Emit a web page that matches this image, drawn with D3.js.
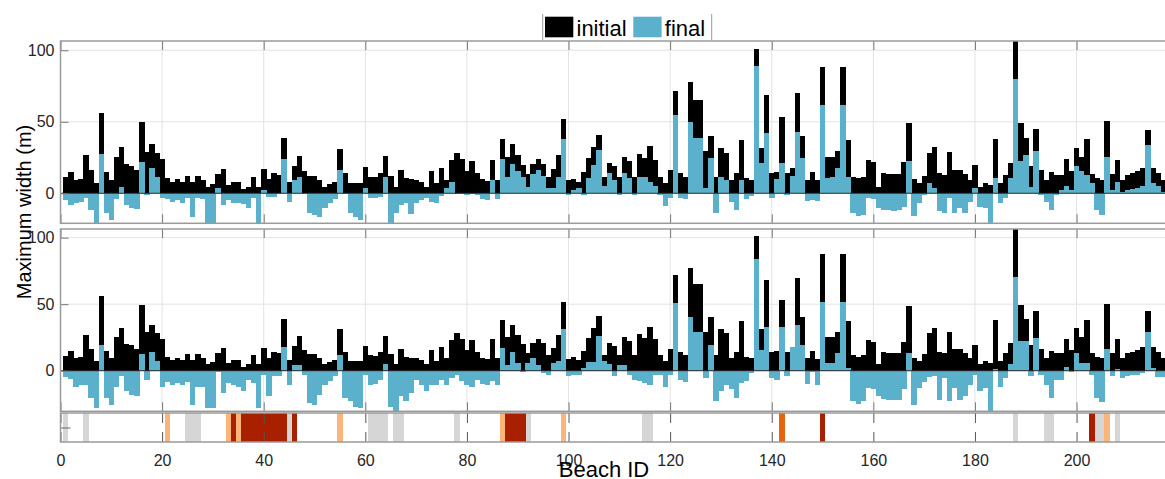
<!DOCTYPE html>
<html>
 <head>
    <title>Maximum width per beach</title>
    <script src="https://d3js.org/d3.v7.min.js"></script>
    <style>
      body { margin: 0; background: #fff; }
      svg { font-family: "Liberation Sans", Arial, sans-serif; }
    </style>
 </head>
 <body>
    <div id="chart"></div>
    <script>
      // beach IDs 1..217 (one bar per beach)
      var beachIds = d3.range(1, 218);

      // initial maximum width (m), same in both panels
      var initialWidth = [
        11.3,14.6,9.4,10,26.5,16,7,56,15,9.4,
        25.4,32.4,20.4,19,16.4,49.5,28.9,34.5,28,24,
        10.5,8.2,9.9,8.2,12.2,8.2,12.2,9.4,4.7,6.6,
        13.6,16.9,5.9,8.2,8.2,2.8,4.7,11.7,4.7,17,
        9.9,14,13,38.7,8.2,18.8,25.8,15.3,12.2,12.2,
        9.4,4.7,6.6,8.2,31.2,14,7.5,7.5,7,18.3,
        11.7,11.3,14,26.3,12.2,4.7,16,10.5,9.9,9.4,
        8.2,4.7,15.3,7,17.6,9.4,23,28,24,15.3,
        22.8,14,9.9,8.7,23.5,9.4,38.3,25.4,34.7,27,
        20,13.4,20.7,24.2,20.7,11.7,17,26.8,52,9,
        10,8,15,24.6,32.4,41,11.7,21,18.8,11.7,
        25.4,22.3,11.7,27.5,24.6,32.9,23.5,11.7,7,16,
        71.6,14,11.7,77.5,65,65,29.3,40,11.7,31.7,
        28,9.4,14,37.6,10.5,9.4,101,31.7,68.5,14,
        15,53.5,14,17.6,70,40,9.4,14.6,9,88,
        25.4,25.4,29.3,88,37.6,11.7,10.5,11.7,23,21.6,
        4.7,14,13.4,13.4,13.4,21.8,49,9.9,7,12.2,
        28,32.4,14,13,29,16,16.4,13.4,9.4,19.5,
        4.7,7,5.9,38,7.5,13,21,106.5,49.3,38.7,
        19.2,45,16.4,9.4,14.6,13,13,24,15.3,32,
        25.4,38,13.6,10.5,9.4,50.5,13.6,23.5,9.4,13,
        14,15.3,17.6,44.6,17.6,14,9.4
      ];

      // final width (m), upper panel
      var finalTop = [
        -4.7,-8,-7,-6,-3.5,-11.7,-20.6,27.7,-14,-18.8,
        -4,4.7,-8,-10.5,-11.3,21.6,-1,18,11.7,-3.5,
        -4,-6,-5,-6.6,-3,-16.4,-3.5,-4,-20.6,-20.6,
        3.5,-8,-4.7,-6.6,-6.6,-7.5,-10.5,-3.5,-20.6,2.3,
        -2.3,-2.3,-0.5,24,-6,9.4,11.7,-0.5,-14,-15.3,
        -16.4,-10.5,-7,-4,16.4,-0.5,-14,-16.4,-18.8,3.5,
        -3.5,-3.5,-2.3,11.3,-20.6,-14,-8,-7,-14.5,-7,
        -4.7,-3.5,-6,-6.6,-2,3.5,8,-0.5,-0.5,-1,
        -0.5,-1,-4,-5,9.4,-4,24,11.3,20.4,15.3,
        11.7,4.7,13.6,16.4,12.2,3.5,3.5,11.3,38,-1,
        2,3.5,-1,10.5,20,30.5,5,14,9.4,-1,
        14,10.5,-1,11.7,11.7,8,5,-1,-8.7,-3,
        55,-3,-4,50,38.7,38.7,3.5,25,-14,11.7,
        9,-6,-12,9.4,-4,-2,89,21,42,-3,
        10,21,-1,12,43,24.6,-5.4,-5,-5.4,61.5,
        10.5,11.3,17.6,61.5,11.3,-14,-16,-15,-3.5,-4,
        -10.5,-11.7,-12,-12.4,-12,-9.4,22.3,-16,-7,-1,
        7,3.5,-12.4,-13.6,-3.5,-14,-10.5,-14,-6,3.5,
        -9.4,-10.5,-20.6,10.5,-7,-3.5,10.5,80,22.3,27,
        4.7,29.3,-1,-6,-11.7,-1,2,5,2,18.8,
        15.3,13,7,-11.7,-15,25.4,2,8.2,1,2,
        3,4,5,34,7,5,1
      ];

      // final width (m), lower panel
      var finalBottom = [
        -5,-6,-12.5,-10.5,-10.5,-20.5,-28,19,-20.5,-25.5,
        -12,-4,-15.5,-18,-19,12.5,-7,13.7,7.5,-12.5,
        -8.5,-10.5,-9,-10.5,-8.5,-25.5,-12,-12,-28,-28,
        -1,-17,-9,-10.5,-12,-15.5,-7,-9,-28,-3,
        -19,-4,-4,17.5,-11,4.5,4.5,-3,-24,-25.5,
        -18,-10.5,-8,-4,12,-20.5,-23,-27,-28,-3,
        -10.5,-10,-7,5,-27,-30,-19,-23,-17,-7,
        -11,-15.5,-10.5,-10.5,-7,-10.5,-5.5,-3,-8,-10.5,
        -12,-7,-10,-10.5,-8,-10.5,17,4.5,14,5.7,
        -1,5.7,9.5,4.5,-2,-3,5.7,7,31,-4,
        -3,-3.5,2,6.5,6.5,26,7,5,-4,4.5,
        4.5,-3,-7,-8,-9,-10.5,-3,-3,-12.5,-3,
        50.7,-7,-8.5,40.7,29,29,-5.5,19.5,-23,-15.5,
        -10.5,-14,-20.5,-9,-7.5,-2,84,15.7,32.5,-5.5,
        -7,33,-4,17.5,34,19.5,-10,-1,-10.5,52,
        5.7,5.7,13,52,2,-23,-25,-23,-13,-14,
        -19,-21,-22,-22,-22,-14,13,-25.5,-13,-8.5,
        -5,-4,-22,-5.5,-23,-13,-22,-19,-10.5,-3,
        -15.5,-13,-30,1,-12,-5.5,5,70.7,22,22,
        -4,24.5,-3,-10.5,-20.5,-7,-7,3,-1,13,
        5.7,5.7,-3,-20.5,-23.5,16.5,-4,1,-5.5,-4,
        -3.5,-3,-2,29,2,-5,-5
      ];

      // beach classes shown in the strip under the panels
      var stripGray = [1,5,25,26,27,45,61,62,63,64,66,67,78,92,115,116,188,194,195,204,205,208];
      var stripLightOrange = [21,33,35,55,87,99,206];
      var stripDarkOrange = [142];
      var stripDarkRed = [34,36,37,38,39,40,41,42,43,44,46,88,89,90,91,150,203];

      // tick values
      var xTicks = [0,20,40,60,80,100,120,140,160,180,200];
      var yTicks = [0,50,100];

      // legend entries
      var seriesNames = ["initial", "final"];
      var seriesColors = ["#000000", "#5bb1cc"];

      var width = 1165;
      var height = 479;

      var svg = d3.select("#chart")
        .append("svg")
        .attr("width", width)
        .attr("height", height);

      // shared x scale
      var x = d3.scaleLinear().domain([0, 218]).range([60.5, 1168]);

      var panels = [
        { top: 41, bottom: 223.3, domain: [-21, 106.5], finals: finalTop },
        { top: 229, bottom: 411.3, domain: [-30.5, 106.5], finals: finalBottom }
      ];

      panels.forEach(function (p, pi) {
        var y = d3.scaleLinear().domain(p.domain).range([p.bottom, p.top]);
        var g = svg.append("g");

        g.append("clipPath").attr("id", "clip" + pi)
          .append("rect")
          .attr("x", x(0)).attr("y", p.top)
          .attr("width", x(218) - x(0)).attr("height", p.bottom - p.top);

        // grid
        g.append("g")
          .selectAll("line.vg")
          .data(xTicks)
          .enter().append("line")
          .attr("x1", function (d) { return x(d); })
          .attr("x2", function (d) { return x(d); })
          .attr("y1", p.top).attr("y2", p.bottom)
          .attr("stroke", "#e3e3e3").attr("stroke-width", 1);
        g.append("g")
          .selectAll("line.hg")
          .data(yTicks)
          .enter().append("line")
          .attr("x1", x(0)).attr("x2", x(218))
          .attr("y1", function (d) { return y(d); })
          .attr("y2", function (d) { return y(d); })
          .attr("stroke", "#e3e3e3").attr("stroke-width", 1);

        var bars = g.append("g").attr("clip-path", "url(#clip" + pi + ")")
          .attr("shape-rendering", "crispEdges");

        // initial bars (black)
        bars.selectAll("rect.ini")
          .data(beachIds)
          .enter().append("rect")
          .attr("x", function (d) { return x(d - 0.5); })
          .attr("width", function (d) { return x(d + 0.5) - x(d - 0.5) + 0.3; })
          .attr("y", function (d, i) { return y(Math.max(0, initialWidth[i])); })
          .attr("height", function (d, i) { return Math.abs(y(initialWidth[i]) - y(0)); })
          .attr("fill", seriesColors[0]);

        // final bars (blue), over the initial ones
        bars.selectAll("rect.fin")
          .data(beachIds)
          .enter().append("rect")
          .attr("x", function (d) { return x(d - 0.5); })
          .attr("width", function (d) { return x(d + 0.5) - x(d - 0.5) + 0.3; })
          .attr("y", function (d, i) { return y(Math.max(0, p.finals[i])); })
          .attr("height", function (d, i) { return Math.abs(y(p.finals[i]) - y(0)); })
          .attr("fill", seriesColors[1]);

        // zero line
        g.append("line")
          .attr("x1", x(0)).attr("x2", x(218))
          .attr("y1", y(0)).attr("y2", y(0))
          .attr("stroke", "#2a2a2a").attr("stroke-width", 1);

        // inside ticks
        var yAxis = g.append("g")
          .attr("transform", "translate(" + x(0) + ",0)")
          .call(d3.axisLeft(y).tickValues(yTicks).tickSize(-8).tickPadding(6));
        yAxis.select(".domain").remove();
        yAxis.selectAll("line").attr("stroke", "#777");
        yAxis.selectAll("text").attr("fill", "#262626").style("font-size", "16px")
          .style("font-family", "'Liberation Sans', Arial, sans-serif");

        var xTop = g.append("g")
          .attr("transform", "translate(0," + p.top + ")")
          .call(d3.axisTop(x).tickValues(xTicks).tickSize(-9).tickFormat(""));
        xTop.select(".domain").remove();
        xTop.selectAll("line").attr("stroke", "#777");

        var xBot = g.append("g")
          .attr("transform", "translate(0," + p.bottom + ")")
          .call(d3.axisBottom(x).tickValues(xTicks).tickSize(-9).tickFormat(""));
        xBot.select(".domain").remove();
        xBot.selectAll("line").attr("stroke", "#777");

        // box
        g.append("rect")
          .attr("x", x(0)).attr("y", p.top)
          .attr("width", x(218) - x(0)).attr("height", p.bottom - p.top)
          .attr("fill", "none").attr("stroke", "#9a9a9a").attr("stroke-width", 1.5);
      });

      // class strip
      var stripTop = 413;
      var stripBottom = 442;
      var strip = svg.append("g");
      var stripClasses = [
        { ids: stripGray, color: "#d6d6d6" },
        { ids: stripLightOrange, color: "#fbb57a" },
        { ids: stripDarkOrange, color: "#e5650f" },
        { ids: stripDarkRed, color: "#a82000" }
      ];
      stripClasses.forEach(function (c) {
        strip.selectAll(null)
          .data(c.ids)
          .enter().append("rect")
          .attr("x", function (d) { return x(d - 0.5); })
          .attr("width", function (d) { return x(d + 0.5) - x(d - 0.5) + 0.3; })
          .attr("y", stripTop).attr("height", stripBottom - stripTop)
          .attr("fill", c.color)
          .attr("shape-rendering", "crispEdges");
      });

      var sy = d3.scaleLinear().domain([0, 1]).range([stripBottom, stripTop]);
      var syAxis = strip.append("g")
        .attr("transform", "translate(" + x(0) + ",0)")
        .call(d3.axisLeft(sy).tickValues([0.5]).tickSize(-10).tickFormat(""));
      syAxis.select(".domain").remove();
      syAxis.selectAll("line").attr("stroke", "#666");

      var sxTop = strip.append("g")
        .attr("transform", "translate(0," + stripTop + ")")
        .call(d3.axisTop(x).tickValues(xTicks).tickSize(-10).tickFormat(""));
      sxTop.select(".domain").remove();
      sxTop.selectAll("line").attr("stroke", "#555");

      var sxBot = strip.append("g")
        .attr("transform", "translate(0," + stripBottom + ")")
        .call(d3.axisBottom(x).tickValues(xTicks).tickSize(-10).tickPadding(13));
      sxBot.select(".domain").remove();
      sxBot.selectAll("line").attr("stroke", "#555");
      sxBot.selectAll("text").attr("fill", "#262626").style("font-size", "16px")
        .style("font-family", "'Liberation Sans', Arial, sans-serif");

      strip.append("rect")
        .attr("x", x(0)).attr("y", stripTop)
        .attr("width", x(218) - x(0)).attr("height", stripBottom - stripTop)
        .attr("fill", "none").attr("stroke", "#9a9a9a").attr("stroke-width", 1.5);

      // axis labels
      svg.append("text")
        .attr("transform", "translate(31,212) rotate(-90)")
        .attr("text-anchor", "middle")
        .style("font-size", "20px")
        .attr("fill", "#000")
        .text("Maximum width (m)");

      svg.append("text")
        .attr("x", 604).attr("y", 477)
        .attr("text-anchor", "middle")
        .style("font-size", "22px")
        .attr("fill", "#000")
        .text("Beach ID");

      // legend
      var legend = svg.append("g");
      legend.append("line").attr("x1", 542.7).attr("x2", 542.7).attr("y1", 14).attr("y2", 40)
        .attr("stroke", "#9a9a9a");
      legend.append("line").attr("x1", 711.7).attr("x2", 711.7).attr("y1", 14).attr("y2", 40)
        .attr("stroke", "#9a9a9a");
      var legendX = [545, 633.3];
      seriesNames.forEach(function (name, i) {
        legend.append("rect")
          .attr("x", legendX[i]).attr("y", 16.7)
          .attr("width", 28.3).attr("height", 20.6)
          .attr("fill", seriesColors[i]);
        legend.append("text")
          .attr("x", legendX[i] + 31.5).attr("y", 36)
          .style("font-size", "22px")
          .attr("fill", "#000")
          .text(name);
      });
    </script>
 </body>
</html>
